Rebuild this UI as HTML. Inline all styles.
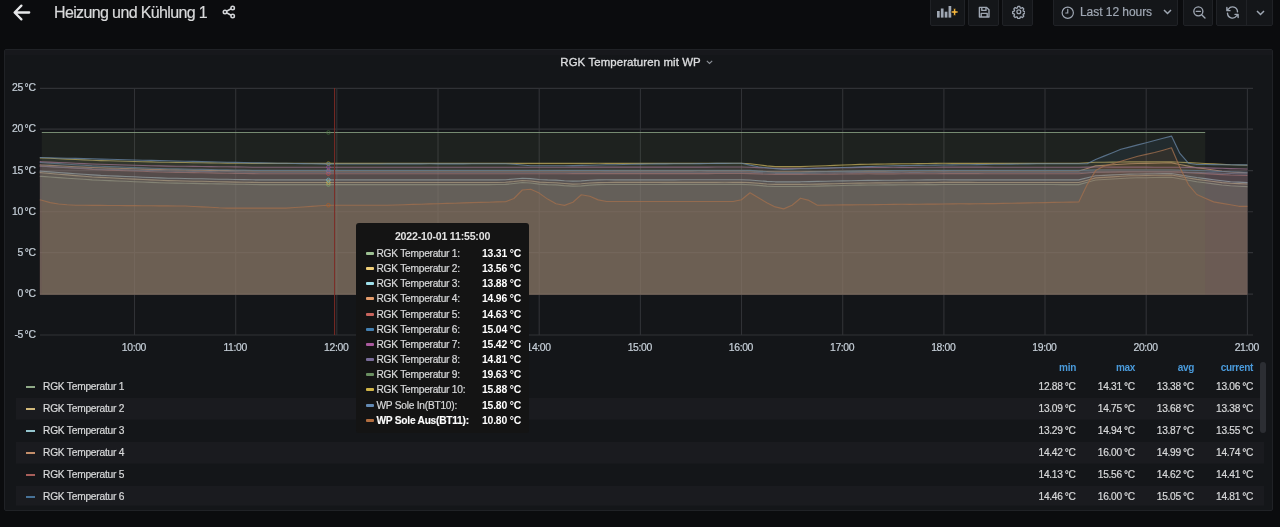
<!DOCTYPE html>
<html lang="de">
<head>
<meta charset="utf-8">
<title>Heizung und Kühlung 1 - Grafana</title>
<style>
*{box-sizing:border-box;margin:0;padding:0}
html,body{width:1280px;height:527px;overflow:hidden;background:#0b0c0e;}
body{font-family:"Liberation Sans",sans-serif;color:#c7d0d9;position:relative;font-size:12px}
#root{position:absolute;left:0;top:0;width:1280px;height:527px;will-change:transform}
/* navbar */
.back{position:absolute;left:10px;top:0;width:24px;height:25px}
.title{position:absolute;left:54px;top:1.5px;font-size:16px;line-height:22px;color:#d8d9da;white-space:nowrap;letter-spacing:-0.63px;-webkit-text-stroke:0.2px #d8d9da}
.share{position:absolute;left:221px;top:4.2px;width:16px;height:16px}
.btn{position:absolute;top:-6px;height:32px;background:#141619;border:1px solid #202226;border-radius:2px}
.btn svg{position:absolute}
.tp-text{position:absolute;left:26px;top:8.5px;font-size:12px;line-height:16px;color:#9fa7b3;white-space:nowrap;letter-spacing:-0.05px;-webkit-text-stroke:0.2px #9fa7b3}
/* panel */
.panel{position:absolute;left:4px;top:49px;width:1269px;height:462px;background:#141619;border:1px solid #202226;border-radius:2px}
.ptitle{position:absolute;font-size:11.4px;line-height:14px;font-weight:normal;color:#dcdddf;letter-spacing:0.12px;white-space:nowrap;-webkit-text-stroke:0.35px #dcdddf}
.ptitle small{font-size:9px;color:#8e8e8e;font-weight:normal;margin-left:2px}
svg.plot{position:absolute;left:4px;top:60px}
svg.plot text.ax{font-family:"Liberation Sans",sans-serif;font-size:10.4px;fill:#c7d0d9;stroke:#c7d0d9;stroke-width:0.2px;letter-spacing:-0.3px;word-spacing:-1px}
svg.plot text.xl{letter-spacing:-0.36px}
/* tooltip */
.tip{position:absolute;left:356px;top:223px;width:173px;height:210px;background:#141414;border-radius:3px;color:#d8d9da;font-size:10.2px}
.tip .tm{position:absolute;left:0;right:0;top:6.4px;text-align:center;font-weight:bold;line-height:14px;font-size:10.6px;letter-spacing:-0.2px;color:#e3e3e3}
.tip .rows{position:absolute;left:0;top:23px;width:100%}
.tip .rows div{position:relative;height:15.17px;line-height:15.17px;white-space:nowrap}
.tip .rows i{position:absolute;left:9.5px;top:6px;width:8.5px;height:3px;border-radius:1px;filter:saturate(.6) brightness(1.12)}
.tip .rows span{position:absolute;left:20.5px;letter-spacing:-0.25px;-webkit-text-stroke:0.2px #d8d9da}
.tip .rows b{position:absolute;left:126px;color:#fff;font-size:10.4px;letter-spacing:-0.2px}
.tip .rows .hl span{font-weight:bold;color:#fff}
/* legend */
.lh{position:absolute;top:361px;font-size:10px;letter-spacing:-0.3px;line-height:14px;color:#4a9bdc;font-weight:bold;text-align:right;width:60px}
.lr{position:absolute;left:16px;width:1248px;height:22px;line-height:22px;font-size:10.2px;color:#d8d9da;white-space:nowrap}
.lr.alt{background:linear-gradient(#1a1b1f,#1a1b1f) 0 0/100% 21.5px no-repeat}
.lr.last{background-size:100% 19.5px}
.lr i{position:absolute;left:9.7px;top:10.3px;width:9.3px;height:1.3px;opacity:.9;filter:saturate(.5) brightness(1.1)}
.lr .nm{position:absolute;left:27px;letter-spacing:-0.22px;-webkit-text-stroke:0.2px #d8d9da}
.lr .v{position:absolute;width:70px;text-align:right;font-size:10.2px;letter-spacing:-0.3px;word-spacing:-0.4px;-webkit-text-stroke:0.2px #d8d9da}
.lr .v:nth-of-type(2){left:989.5px}
.lr .v:nth-of-type(3){left:1048.8px}
.lr .v:nth-of-type(4){left:1107.8px}
.lr .v:nth-of-type(5){left:1167px}
.sb{position:absolute;left:1260px;top:362px;width:6px;height:71px;background:#2c2e33;border-radius:3px}
</style>
</head>
<body>
<div id="root">
<!-- navbar -->
<svg class="back" viewBox="0 0 24 25" fill="none" stroke="#e6e7e9" stroke-width="2.3" stroke-linecap="round" stroke-linejoin="round"><path d="M11.4 5.6L4.6 12.5l6.8 6.9M5.2 12.5H19.2"/></svg>
<div class="title">Heizung und Kühlung 1</div>
<svg class="share" viewBox="0 0 24 24" fill="none" stroke="#d3d5d8" stroke-width="2.3"><circle cx="17.5" cy="6" r="2.6"/><circle cx="6" cy="12" r="2.6"/><circle cx="17.5" cy="18" r="2.6"/><path d="M8.3 10.8l6.9-3.6M8.3 13.2l6.9 3.6"/></svg>

<div class="btn" style="left:930px;width:35px">
  <svg style="left:6px;top:10.3px" width="24" height="14" viewBox="0 0 24 14"><rect x="0" y="6" width="2.7" height="6.6" fill="#9fa7b3"/><rect x="3.85" y="3.5" width="2.7" height="9.1" fill="#9fa7b3"/><rect x="7.7" y="6.7" width="2.7" height="5.9" fill="#9fa7b3"/><rect x="11.55" y="1" width="2.7" height="11.6" fill="#9fa7b3"/><path d="M16.5 3.6h2.2v2.3H21v2.2h-2.3v2.3h-2.2V8.1h-2.3V5.9h2.3z" fill="#f5b73d" stroke="#141619" stroke-width="0.7"/></svg>
</div>
<div class="btn" style="left:968px;width:31px">
  <svg style="left:8px;top:9.8px" width="14.4" height="14.4" viewBox="0 0 24 24" fill="none" stroke="#9fa7b3" stroke-width="2.3" stroke-linejoin="round"><path d="M4 4h12l4 4v12H4z"/><path d="M8 4v5h7V4M7 20v-6h10v6"/></svg>
</div>
<div class="btn" style="left:1002px;width:31px">
  <svg style="left:8.6px;top:10.3px" width="13.6" height="13.6" viewBox="0 0 24 24" fill="none" stroke="#9fa7b3" stroke-width="2.3" stroke-linejoin="round"><circle cx="12" cy="12" r="3.4"/><path d="M10.3 2.5h3.4l.7 2.6 1.7.7 2.3-1.3 2.4 2.4-1.3 2.3.7 1.7 2.6.7v3.4l-2.6.7-.7 1.7 1.3 2.3-2.4 2.4-2.3-1.3-1.7.7-.7 2.6h-3.4l-.7-2.6-1.7-.7-2.3 1.3-2.4-2.4 1.3-2.3-.7-1.7-2.6-.7v-3.4l2.6-.7.7-1.7-1.3-2.3 2.4-2.4 2.3 1.3 1.7-.7z"/></svg>
</div>
<div class="btn" style="left:1053px;width:125px">
  <svg style="left:7px;top:10.6px" width="13.5" height="13.5" viewBox="0 0 24 24" fill="none" stroke="#9fa7b3" stroke-width="2.1"><circle cx="12" cy="12" r="10"/><path d="M12 6v6.5H8.5" stroke-linecap="round"/></svg>
  <div class="tp-text">Last 12 hours</div>
  <svg style="left:109px;top:14.2px" width="9" height="6" viewBox="0 0 9 6" fill="none" stroke="#9fa7b3" stroke-width="1.5"><path d="M1 1l3.5 3.5L8 1"/></svg>
</div>
<div class="btn" style="left:1183px;width:30px">
  <svg style="left:7.5px;top:9.8px" width="14.5" height="14.5" viewBox="0 0 24 24" fill="none" stroke="#9fa7b3" stroke-width="2.2" stroke-linecap="round"><circle cx="10.5" cy="10.5" r="7.5"/><path d="M16 16l5.5 5.5M7 10.5h7"/></svg>
</div>
<div class="btn" style="left:1216px;width:57px">
  <svg style="left:8px;top:9.7px" width="15" height="15" viewBox="0 0 24 24" fill="none" stroke="#9fa7b3" stroke-width="2.2" stroke-linecap="round" stroke-linejoin="round"><path d="M20 11A8 8 0 0 0 5.5 6.5L3 9M3 4v5h5M4 13a8 8 0 0 0 14.5 4.5L21 15M21 20v-5h-5"/></svg>
  <div style="position:absolute;left:29px;top:0;width:1px;height:30px;background:#202226"></div>
  <svg style="left:39px;top:14.5px" width="9" height="6" viewBox="0 0 9 6" fill="none" stroke="#9fa7b3" stroke-width="1.5"><path d="M1 1l3.5 3.5L8 1"/></svg>
</div>

<!-- panel -->
<div class="panel"></div>
<div style="position:absolute;left:5px;top:50px;width:1267px;height:4.5px;background:#17181c"></div>
<div class="ptitle" style="top:54.6px;left:560.3px">RGK Temperaturen mit WP</div>
<svg style="position:absolute;left:705.5px;top:59.5px" width="7" height="5" viewBox="0 0 7 5" fill="none" stroke="#8e9299" stroke-width="1.1"><path d="M0.8 0.8l2.7 2.7L6.2 0.8"/></svg>
<svg class="plot" width="1270" height="300" viewBox="4 60 1270 300">
<g stroke="#303236" stroke-width="1.1"><line x1="40" y1="88.4" x2="1253" y2="88.4"/><line x1="40" y1="129.1" x2="1253" y2="129.1"/><line x1="40" y1="170.6" x2="1253" y2="170.6"/><line x1="40" y1="211.7" x2="1253" y2="211.7"/><line x1="40" y1="252.6" x2="1253" y2="252.6"/><line x1="40" y1="294.1" x2="1253" y2="294.1"/><line x1="40" y1="335.0" x2="1253" y2="335.0"/><line x1="134.5" y1="88" x2="134.5" y2="335"/><line x1="235.7" y1="88" x2="235.7" y2="335"/><line x1="336.8" y1="88" x2="336.8" y2="335"/><line x1="438.0" y1="88" x2="438.0" y2="335"/><line x1="539.2" y1="88" x2="539.2" y2="335"/><line x1="640.4" y1="88" x2="640.4" y2="335"/><line x1="741.5" y1="88" x2="741.5" y2="335"/><line x1="842.7" y1="88" x2="842.7" y2="335"/><line x1="943.9" y1="88" x2="943.9" y2="335"/><line x1="1045.0" y1="88" x2="1045.0" y2="335"/><line x1="1146.2" y1="88" x2="1146.2" y2="335"/><line x1="1247.4" y1="88" x2="1247.4" y2="335"/></g>
<g style="filter:saturate(0.8)">
<path d="M39.8,176.3 L41.8,176.4 L50.2,177.0 L58.6,177.6 L67.1,178.2 L75.5,178.8 L83.9,179.3 L92.3,179.9 L100.8,180.3 L109.2,180.6 L117.6,181.0 L126.1,181.3 L134.5,181.7 L142.9,182.0 L151.4,182.4 L159.8,182.7 L168.2,183.0 L176.7,183.1 L185.1,183.3 L193.5,183.4 L201.9,183.6 L210.4,183.7 L218.8,183.9 L227.2,184.0 L235.7,184.2 L244.1,184.3 L252.5,184.5 L261.0,184.6 L269.4,184.6 L277.8,184.6 L286.3,184.6 L294.7,184.6 L303.1,184.6 L311.5,184.6 L320.0,184.6 L328.4,184.6 L336.8,184.6 L345.3,184.6 L353.7,184.6 L362.1,184.6 L370.6,184.6 L379.0,184.6 L387.4,184.6 L395.9,184.6 L404.3,184.6 L412.7,184.6 L421.1,184.6 L429.6,184.6 L438.0,184.6 L446.4,184.6 L454.9,184.6 L463.3,184.6 L471.7,184.6 L480.2,184.6 L488.6,184.6 L497.0,184.5 L505.5,184.4 L513.9,183.5 L522.3,182.5 L530.7,183.0 L539.2,184.1 L547.6,184.6 L556.0,184.9 L564.5,185.6 L572.9,186.1 L581.3,185.9 L589.8,185.1 L598.2,184.6 L606.6,184.5 L615.1,184.5 L623.5,184.5 L631.9,184.5 L640.4,184.5 L648.8,184.5 L657.2,184.5 L665.6,184.4 L674.1,184.4 L682.5,184.4 L690.9,184.4 L699.4,184.4 L707.8,184.4 L716.2,184.4 L724.7,184.4 L733.1,184.4 L741.5,184.4 L750.0,184.7 L758.4,185.4 L766.8,186.1 L775.2,186.5 L783.7,186.5 L792.1,186.5 L800.5,186.5 L809.0,186.3 L817.4,186.1 L825.8,185.9 L834.3,185.7 L842.7,185.5 L851.1,185.3 L859.6,185.1 L868.0,185.0 L876.4,185.0 L884.8,184.9 L893.3,184.9 L901.7,184.8 L910.1,184.7 L918.6,184.7 L927.0,184.6 L935.4,184.6 L943.9,184.5 L952.3,184.5 L960.7,184.5 L969.2,184.5 L977.6,184.5 L986.0,184.5 L994.4,184.5 L1002.9,184.5 L1011.3,184.5 L1019.7,184.5 L1028.2,184.5 L1036.6,184.5 L1045.0,184.5 L1053.5,184.5 L1061.9,184.6 L1070.3,184.6 L1078.8,184.6 L1087.2,182.3 L1095.6,180.0 L1104.0,179.5 L1112.5,179.0 L1120.9,178.5 L1129.3,178.0 L1137.8,177.8 L1146.2,177.7 L1154.6,177.5 L1163.1,177.4 L1171.5,177.2 L1179.9,178.7 L1188.4,180.2 L1196.8,181.7 L1205.2,182.8 L1213.6,183.9 L1222.1,185.0 L1230.5,185.8 L1238.9,186.2 L1247.4,186.6 L1247.4,294.7 L39.8,294.7 Z" fill="#7EB26D" fill-opacity="0.1" stroke="none"/>
<path d="M39.8,176.3 L41.8,176.4 L50.2,177.0 L58.6,177.6 L67.1,178.2 L75.5,178.8 L83.9,179.3 L92.3,179.9 L100.8,180.3 L109.2,180.6 L117.6,181.0 L126.1,181.3 L134.5,181.7 L142.9,182.0 L151.4,182.4 L159.8,182.7 L168.2,183.0 L176.7,183.1 L185.1,183.3 L193.5,183.4 L201.9,183.6 L210.4,183.7 L218.8,183.9 L227.2,184.0 L235.7,184.2 L244.1,184.3 L252.5,184.5 L261.0,184.6 L269.4,184.6 L277.8,184.6 L286.3,184.6 L294.7,184.6 L303.1,184.6 L311.5,184.6 L320.0,184.6 L328.4,184.6 L336.8,184.6 L345.3,184.6 L353.7,184.6 L362.1,184.6 L370.6,184.6 L379.0,184.6 L387.4,184.6 L395.9,184.6 L404.3,184.6 L412.7,184.6 L421.1,184.6 L429.6,184.6 L438.0,184.6 L446.4,184.6 L454.9,184.6 L463.3,184.6 L471.7,184.6 L480.2,184.6 L488.6,184.6 L497.0,184.5 L505.5,184.4 L513.9,183.5 L522.3,182.5 L530.7,183.0 L539.2,184.1 L547.6,184.6 L556.0,184.9 L564.5,185.6 L572.9,186.1 L581.3,185.9 L589.8,185.1 L598.2,184.6 L606.6,184.5 L615.1,184.5 L623.5,184.5 L631.9,184.5 L640.4,184.5 L648.8,184.5 L657.2,184.5 L665.6,184.4 L674.1,184.4 L682.5,184.4 L690.9,184.4 L699.4,184.4 L707.8,184.4 L716.2,184.4 L724.7,184.4 L733.1,184.4 L741.5,184.4 L750.0,184.7 L758.4,185.4 L766.8,186.1 L775.2,186.5 L783.7,186.5 L792.1,186.5 L800.5,186.5 L809.0,186.3 L817.4,186.1 L825.8,185.9 L834.3,185.7 L842.7,185.5 L851.1,185.3 L859.6,185.1 L868.0,185.0 L876.4,185.0 L884.8,184.9 L893.3,184.9 L901.7,184.8 L910.1,184.7 L918.6,184.7 L927.0,184.6 L935.4,184.6 L943.9,184.5 L952.3,184.5 L960.7,184.5 L969.2,184.5 L977.6,184.5 L986.0,184.5 L994.4,184.5 L1002.9,184.5 L1011.3,184.5 L1019.7,184.5 L1028.2,184.5 L1036.6,184.5 L1045.0,184.5 L1053.5,184.5 L1061.9,184.6 L1070.3,184.6 L1078.8,184.6 L1087.2,182.3 L1095.6,180.0 L1104.0,179.5 L1112.5,179.0 L1120.9,178.5 L1129.3,178.0 L1137.8,177.8 L1146.2,177.7 L1154.6,177.5 L1163.1,177.4 L1171.5,177.2 L1179.9,178.7 L1188.4,180.2 L1196.8,181.7 L1205.2,182.8 L1213.6,183.9 L1222.1,185.0 L1230.5,185.8 L1238.9,186.2 L1247.4,186.6" fill="none" stroke="#91b187" stroke-width="1.15" stroke-opacity="0.8" stroke-linejoin="round" style="filter:blur(0.3px)"/>
<path d="M39.8,172.6 L41.8,172.8 L50.2,173.5 L58.6,174.2 L67.1,174.9 L75.5,175.6 L83.9,176.3 L92.3,177.0 L100.8,177.4 L109.2,177.8 L117.6,178.3 L126.1,178.7 L134.5,179.1 L142.9,179.5 L151.4,179.9 L159.8,180.3 L168.2,180.6 L176.7,180.8 L185.1,181.0 L193.5,181.2 L201.9,181.3 L210.4,181.5 L218.8,181.7 L227.2,181.9 L235.7,182.1 L244.1,182.2 L252.5,182.4 L261.0,182.5 L269.4,182.5 L277.8,182.5 L286.3,182.5 L294.7,182.5 L303.1,182.5 L311.5,182.5 L320.0,182.5 L328.4,182.5 L336.8,182.5 L345.3,182.5 L353.7,182.5 L362.1,182.5 L370.6,182.5 L379.0,182.5 L387.4,182.5 L395.9,182.5 L404.3,182.5 L412.7,182.5 L421.1,182.5 L429.6,182.5 L438.0,182.5 L446.4,182.5 L454.9,182.5 L463.3,182.5 L471.7,182.5 L480.2,182.5 L488.6,182.5 L497.0,182.5 L505.5,182.3 L513.9,181.5 L522.3,180.5 L530.7,181.0 L539.2,182.1 L547.6,182.5 L556.0,182.8 L564.5,183.5 L572.9,184.1 L581.3,183.8 L589.8,183.0 L598.2,182.6 L606.6,182.5 L615.1,182.4 L623.5,182.4 L631.9,182.4 L640.4,182.4 L648.8,182.4 L657.2,182.4 L665.6,182.4 L674.1,182.4 L682.5,182.4 L690.9,182.4 L699.4,182.4 L707.8,182.4 L716.2,182.4 L724.7,182.3 L733.1,182.3 L741.5,182.3 L750.0,182.6 L758.4,183.3 L766.8,184.0 L775.2,184.4 L783.7,184.4 L792.1,184.4 L800.5,184.4 L809.0,184.3 L817.4,184.1 L825.8,183.9 L834.3,183.7 L842.7,183.5 L851.1,183.3 L859.6,183.1 L868.0,183.0 L876.4,182.9 L884.8,182.9 L893.3,182.8 L901.7,182.7 L910.1,182.7 L918.6,182.6 L927.0,182.6 L935.4,182.5 L943.9,182.4 L952.3,182.4 L960.7,182.4 L969.2,182.4 L977.6,182.5 L986.0,182.5 L994.4,182.5 L1002.9,182.5 L1011.3,182.5 L1019.7,182.5 L1028.2,182.5 L1036.6,182.5 L1045.0,182.5 L1053.5,182.5 L1061.9,182.5 L1070.3,182.5 L1078.8,182.5 L1087.2,180.2 L1095.6,177.9 L1104.0,177.4 L1112.5,176.9 L1120.9,176.3 L1129.3,175.8 L1137.8,175.7 L1146.2,175.5 L1154.6,175.3 L1163.1,175.2 L1171.5,175.0 L1179.9,176.5 L1188.4,178.0 L1196.8,179.4 L1205.2,180.5 L1213.6,181.5 L1222.1,182.6 L1230.5,183.3 L1238.9,183.6 L1247.4,184.0 L1247.4,294.7 L39.8,294.7 Z" fill="#EAB839" fill-opacity="0.1" stroke="none"/>
<path d="M39.8,172.6 L41.8,172.8 L50.2,173.5 L58.6,174.2 L67.1,174.9 L75.5,175.6 L83.9,176.3 L92.3,177.0 L100.8,177.4 L109.2,177.8 L117.6,178.3 L126.1,178.7 L134.5,179.1 L142.9,179.5 L151.4,179.9 L159.8,180.3 L168.2,180.6 L176.7,180.8 L185.1,181.0 L193.5,181.2 L201.9,181.3 L210.4,181.5 L218.8,181.7 L227.2,181.9 L235.7,182.1 L244.1,182.2 L252.5,182.4 L261.0,182.5 L269.4,182.5 L277.8,182.5 L286.3,182.5 L294.7,182.5 L303.1,182.5 L311.5,182.5 L320.0,182.5 L328.4,182.5 L336.8,182.5 L345.3,182.5 L353.7,182.5 L362.1,182.5 L370.6,182.5 L379.0,182.5 L387.4,182.5 L395.9,182.5 L404.3,182.5 L412.7,182.5 L421.1,182.5 L429.6,182.5 L438.0,182.5 L446.4,182.5 L454.9,182.5 L463.3,182.5 L471.7,182.5 L480.2,182.5 L488.6,182.5 L497.0,182.5 L505.5,182.3 L513.9,181.5 L522.3,180.5 L530.7,181.0 L539.2,182.1 L547.6,182.5 L556.0,182.8 L564.5,183.5 L572.9,184.1 L581.3,183.8 L589.8,183.0 L598.2,182.6 L606.6,182.5 L615.1,182.4 L623.5,182.4 L631.9,182.4 L640.4,182.4 L648.8,182.4 L657.2,182.4 L665.6,182.4 L674.1,182.4 L682.5,182.4 L690.9,182.4 L699.4,182.4 L707.8,182.4 L716.2,182.4 L724.7,182.3 L733.1,182.3 L741.5,182.3 L750.0,182.6 L758.4,183.3 L766.8,184.0 L775.2,184.4 L783.7,184.4 L792.1,184.4 L800.5,184.4 L809.0,184.3 L817.4,184.1 L825.8,183.9 L834.3,183.7 L842.7,183.5 L851.1,183.3 L859.6,183.1 L868.0,183.0 L876.4,182.9 L884.8,182.9 L893.3,182.8 L901.7,182.7 L910.1,182.7 L918.6,182.6 L927.0,182.6 L935.4,182.5 L943.9,182.4 L952.3,182.4 L960.7,182.4 L969.2,182.4 L977.6,182.5 L986.0,182.5 L994.4,182.5 L1002.9,182.5 L1011.3,182.5 L1019.7,182.5 L1028.2,182.5 L1036.6,182.5 L1045.0,182.5 L1053.5,182.5 L1061.9,182.5 L1070.3,182.5 L1078.8,182.5 L1087.2,180.2 L1095.6,177.9 L1104.0,177.4 L1112.5,176.9 L1120.9,176.3 L1129.3,175.8 L1137.8,175.7 L1146.2,175.5 L1154.6,175.3 L1163.1,175.2 L1171.5,175.0 L1179.9,176.5 L1188.4,178.0 L1196.8,179.4 L1205.2,180.5 L1213.6,181.5 L1222.1,182.6 L1230.5,183.3 L1238.9,183.6 L1247.4,184.0" fill="none" stroke="#dec074" stroke-width="1.15" stroke-opacity="0.8" stroke-linejoin="round" style="filter:blur(0.3px)"/>
<path d="M39.8,171.1 L41.8,171.2 L50.2,171.9 L58.6,172.5 L67.1,173.1 L75.5,173.7 L83.9,174.3 L92.3,174.9 L100.8,175.4 L109.2,175.7 L117.6,176.1 L126.1,176.5 L134.5,176.8 L142.9,177.2 L151.4,177.5 L159.8,177.9 L168.2,178.2 L176.7,178.3 L185.1,178.5 L193.5,178.7 L201.9,178.8 L210.4,179.0 L218.8,179.2 L227.2,179.3 L235.7,179.5 L244.1,179.6 L252.5,179.8 L261.0,179.9 L269.4,179.9 L277.8,179.9 L286.3,179.9 L294.7,179.9 L303.1,179.9 L311.5,179.9 L320.0,179.9 L328.4,179.9 L336.8,179.9 L345.3,179.9 L353.7,179.9 L362.1,179.9 L370.6,179.9 L379.0,179.9 L387.4,179.9 L395.9,179.9 L404.3,179.9 L412.7,179.9 L421.1,179.9 L429.6,179.9 L438.0,179.9 L446.4,179.9 L454.9,179.9 L463.3,179.9 L471.7,179.9 L480.2,179.9 L488.6,179.9 L497.0,179.9 L505.5,179.7 L513.9,179.0 L522.3,178.2 L530.7,178.6 L539.2,179.5 L547.6,179.9 L556.0,180.1 L564.5,180.7 L572.9,181.1 L581.3,180.9 L589.8,180.3 L598.2,179.9 L606.6,179.8 L615.1,179.8 L623.5,179.8 L631.9,179.8 L640.4,179.8 L648.8,179.8 L657.2,179.8 L665.6,179.8 L674.1,179.8 L682.5,179.7 L690.9,179.7 L699.4,179.7 L707.8,179.7 L716.2,179.7 L724.7,179.7 L733.1,179.7 L741.5,179.7 L750.0,180.0 L758.4,180.7 L766.8,181.4 L775.2,181.8 L783.7,181.8 L792.1,181.8 L800.5,181.8 L809.0,181.6 L817.4,181.4 L825.8,181.2 L834.3,181.0 L842.7,180.9 L851.1,180.7 L859.6,180.5 L868.0,180.3 L876.4,180.3 L884.8,180.2 L893.3,180.2 L901.7,180.1 L910.1,180.0 L918.6,180.0 L927.0,179.9 L935.4,179.9 L943.9,179.8 L952.3,179.8 L960.7,179.8 L969.2,179.8 L977.6,179.8 L986.0,179.8 L994.4,179.8 L1002.9,179.8 L1011.3,179.8 L1019.7,179.8 L1028.2,179.8 L1036.6,179.8 L1045.0,179.9 L1053.5,179.9 L1061.9,179.9 L1070.3,179.9 L1078.8,179.9 L1087.2,177.8 L1095.6,175.8 L1104.0,175.4 L1112.5,174.9 L1120.9,174.5 L1129.3,174.1 L1137.8,174.0 L1146.2,173.9 L1154.6,173.7 L1163.1,173.6 L1171.5,173.5 L1179.9,174.9 L1188.4,176.2 L1196.8,177.5 L1205.2,178.6 L1213.6,179.7 L1222.1,180.8 L1230.5,181.7 L1238.9,182.1 L1247.4,182.6 L1247.4,294.7 L39.8,294.7 Z" fill="#6ED0E0" fill-opacity="0.1" stroke="none"/>
<path d="M39.8,171.1 L41.8,171.2 L50.2,171.9 L58.6,172.5 L67.1,173.1 L75.5,173.7 L83.9,174.3 L92.3,174.9 L100.8,175.4 L109.2,175.7 L117.6,176.1 L126.1,176.5 L134.5,176.8 L142.9,177.2 L151.4,177.5 L159.8,177.9 L168.2,178.2 L176.7,178.3 L185.1,178.5 L193.5,178.7 L201.9,178.8 L210.4,179.0 L218.8,179.2 L227.2,179.3 L235.7,179.5 L244.1,179.6 L252.5,179.8 L261.0,179.9 L269.4,179.9 L277.8,179.9 L286.3,179.9 L294.7,179.9 L303.1,179.9 L311.5,179.9 L320.0,179.9 L328.4,179.9 L336.8,179.9 L345.3,179.9 L353.7,179.9 L362.1,179.9 L370.6,179.9 L379.0,179.9 L387.4,179.9 L395.9,179.9 L404.3,179.9 L412.7,179.9 L421.1,179.9 L429.6,179.9 L438.0,179.9 L446.4,179.9 L454.9,179.9 L463.3,179.9 L471.7,179.9 L480.2,179.9 L488.6,179.9 L497.0,179.9 L505.5,179.7 L513.9,179.0 L522.3,178.2 L530.7,178.6 L539.2,179.5 L547.6,179.9 L556.0,180.1 L564.5,180.7 L572.9,181.1 L581.3,180.9 L589.8,180.3 L598.2,179.9 L606.6,179.8 L615.1,179.8 L623.5,179.8 L631.9,179.8 L640.4,179.8 L648.8,179.8 L657.2,179.8 L665.6,179.8 L674.1,179.8 L682.5,179.7 L690.9,179.7 L699.4,179.7 L707.8,179.7 L716.2,179.7 L724.7,179.7 L733.1,179.7 L741.5,179.7 L750.0,180.0 L758.4,180.7 L766.8,181.4 L775.2,181.8 L783.7,181.8 L792.1,181.8 L800.5,181.8 L809.0,181.6 L817.4,181.4 L825.8,181.2 L834.3,181.0 L842.7,180.9 L851.1,180.7 L859.6,180.5 L868.0,180.3 L876.4,180.3 L884.8,180.2 L893.3,180.2 L901.7,180.1 L910.1,180.0 L918.6,180.0 L927.0,179.9 L935.4,179.9 L943.9,179.8 L952.3,179.8 L960.7,179.8 L969.2,179.8 L977.6,179.8 L986.0,179.8 L994.4,179.8 L1002.9,179.8 L1011.3,179.8 L1019.7,179.8 L1028.2,179.8 L1036.6,179.8 L1045.0,179.9 L1053.5,179.9 L1061.9,179.9 L1070.3,179.9 L1078.8,179.9 L1087.2,177.8 L1095.6,175.8 L1104.0,175.4 L1112.5,174.9 L1120.9,174.5 L1129.3,174.1 L1137.8,174.0 L1146.2,173.9 L1154.6,173.7 L1163.1,173.6 L1171.5,173.5 L1179.9,174.9 L1188.4,176.2 L1196.8,177.5 L1205.2,178.6 L1213.6,179.7 L1222.1,180.8 L1230.5,181.7 L1238.9,182.1 L1247.4,182.6" fill="none" stroke="#92cdd7" stroke-width="1.15" stroke-opacity="0.8" stroke-linejoin="round" style="filter:blur(0.3px)"/>
<path d="M39.8,164.9 L41.8,165.0 L50.2,165.4 L58.6,165.8 L67.1,166.3 L75.5,166.7 L83.9,167.1 L92.3,167.5 L100.8,167.8 L109.2,168.1 L117.6,168.3 L126.1,168.6 L134.5,168.8 L142.9,169.1 L151.4,169.4 L159.8,169.6 L168.2,169.8 L176.7,169.9 L185.1,170.0 L193.5,170.1 L201.9,170.3 L210.4,170.4 L218.8,170.5 L227.2,170.6 L235.7,170.7 L244.1,170.8 L252.5,170.9 L261.0,171.0 L269.4,171.0 L277.8,171.0 L286.3,171.0 L294.7,171.0 L303.1,171.0 L311.5,171.0 L320.0,171.0 L328.4,171.0 L336.8,171.0 L345.3,171.0 L353.7,171.0 L362.1,171.0 L370.6,171.0 L379.0,171.0 L387.4,171.0 L395.9,171.0 L404.3,171.0 L412.7,171.0 L421.1,171.0 L429.6,171.0 L438.0,171.0 L446.4,171.0 L454.9,171.0 L463.3,171.0 L471.7,171.0 L480.2,171.0 L488.6,171.0 L497.0,171.0 L505.5,171.0 L513.9,171.0 L522.3,171.0 L530.7,171.0 L539.2,171.0 L547.6,171.0 L556.0,170.9 L564.5,170.9 L572.9,170.9 L581.3,170.9 L589.8,170.9 L598.2,170.9 L606.6,170.9 L615.1,170.9 L623.5,170.9 L631.9,170.9 L640.4,170.9 L648.8,170.9 L657.2,170.9 L665.6,170.9 L674.1,170.9 L682.5,170.9 L690.9,170.9 L699.4,170.8 L707.8,170.8 L716.2,170.8 L724.7,170.8 L733.1,170.8 L741.5,170.8 L750.0,170.9 L758.4,171.2 L766.8,171.5 L775.2,171.7 L783.7,171.7 L792.1,171.7 L800.5,171.7 L809.0,171.6 L817.4,171.5 L825.8,171.5 L834.3,171.4 L842.7,171.3 L851.1,171.2 L859.6,171.2 L868.0,171.1 L876.4,171.1 L884.8,171.1 L893.3,171.0 L901.7,171.0 L910.1,171.0 L918.6,171.0 L927.0,171.0 L935.4,170.9 L943.9,170.9 L952.3,170.9 L960.7,170.9 L969.2,170.9 L977.6,170.9 L986.0,170.9 L994.4,170.9 L1002.9,170.9 L1011.3,170.9 L1019.7,171.0 L1028.2,171.0 L1036.6,171.0 L1045.0,171.0 L1053.5,171.0 L1061.9,171.0 L1070.3,171.0 L1078.8,171.0 L1087.2,168.5 L1095.6,165.9 L1104.0,165.4 L1112.5,164.8 L1120.9,164.2 L1129.3,163.7 L1137.8,163.5 L1146.2,163.4 L1154.6,163.2 L1163.1,163.0 L1171.5,162.9 L1179.9,164.5 L1188.4,166.1 L1196.8,167.7 L1205.2,168.8 L1213.6,170.0 L1222.1,171.2 L1230.5,172.0 L1238.9,172.4 L1247.4,172.8 L1247.4,294.7 L39.8,294.7 Z" fill="#EF843C" fill-opacity="0.1" stroke="none"/>
<path d="M39.8,164.9 L41.8,165.0 L50.2,165.4 L58.6,165.8 L67.1,166.3 L75.5,166.7 L83.9,167.1 L92.3,167.5 L100.8,167.8 L109.2,168.1 L117.6,168.3 L126.1,168.6 L134.5,168.8 L142.9,169.1 L151.4,169.4 L159.8,169.6 L168.2,169.8 L176.7,169.9 L185.1,170.0 L193.5,170.1 L201.9,170.3 L210.4,170.4 L218.8,170.5 L227.2,170.6 L235.7,170.7 L244.1,170.8 L252.5,170.9 L261.0,171.0 L269.4,171.0 L277.8,171.0 L286.3,171.0 L294.7,171.0 L303.1,171.0 L311.5,171.0 L320.0,171.0 L328.4,171.0 L336.8,171.0 L345.3,171.0 L353.7,171.0 L362.1,171.0 L370.6,171.0 L379.0,171.0 L387.4,171.0 L395.9,171.0 L404.3,171.0 L412.7,171.0 L421.1,171.0 L429.6,171.0 L438.0,171.0 L446.4,171.0 L454.9,171.0 L463.3,171.0 L471.7,171.0 L480.2,171.0 L488.6,171.0 L497.0,171.0 L505.5,171.0 L513.9,171.0 L522.3,171.0 L530.7,171.0 L539.2,171.0 L547.6,171.0 L556.0,170.9 L564.5,170.9 L572.9,170.9 L581.3,170.9 L589.8,170.9 L598.2,170.9 L606.6,170.9 L615.1,170.9 L623.5,170.9 L631.9,170.9 L640.4,170.9 L648.8,170.9 L657.2,170.9 L665.6,170.9 L674.1,170.9 L682.5,170.9 L690.9,170.9 L699.4,170.8 L707.8,170.8 L716.2,170.8 L724.7,170.8 L733.1,170.8 L741.5,170.8 L750.0,170.9 L758.4,171.2 L766.8,171.5 L775.2,171.7 L783.7,171.7 L792.1,171.7 L800.5,171.7 L809.0,171.6 L817.4,171.5 L825.8,171.5 L834.3,171.4 L842.7,171.3 L851.1,171.2 L859.6,171.2 L868.0,171.1 L876.4,171.1 L884.8,171.1 L893.3,171.0 L901.7,171.0 L910.1,171.0 L918.6,171.0 L927.0,171.0 L935.4,170.9 L943.9,170.9 L952.3,170.9 L960.7,170.9 L969.2,170.9 L977.6,170.9 L986.0,170.9 L994.4,170.9 L1002.9,170.9 L1011.3,170.9 L1019.7,171.0 L1028.2,171.0 L1036.6,171.0 L1045.0,171.0 L1053.5,171.0 L1061.9,171.0 L1070.3,171.0 L1078.8,171.0 L1087.2,168.5 L1095.6,165.9 L1104.0,165.4 L1112.5,164.8 L1120.9,164.2 L1129.3,163.7 L1137.8,163.5 L1146.2,163.4 L1154.6,163.2 L1163.1,163.0 L1171.5,162.9 L1179.9,164.5 L1188.4,166.1 L1196.8,167.7 L1205.2,168.8 L1213.6,170.0 L1222.1,171.2 L1230.5,172.0 L1238.9,172.4 L1247.4,172.8" fill="none" stroke="#d6966a" stroke-width="1.15" stroke-opacity="0.8" stroke-linejoin="round" style="filter:blur(0.3px)"/>
<path d="M39.8,166.0 L41.8,166.1 L50.2,166.7 L58.6,167.2 L67.1,167.8 L75.5,168.3 L83.9,168.8 L92.3,169.4 L100.8,169.7 L109.2,170.1 L117.6,170.4 L126.1,170.7 L134.5,171.0 L142.9,171.3 L151.4,171.7 L159.8,172.0 L168.2,172.2 L176.7,172.4 L185.1,172.5 L193.5,172.6 L201.9,172.8 L210.4,172.9 L218.8,173.1 L227.2,173.2 L235.7,173.4 L244.1,173.5 L252.5,173.6 L261.0,173.7 L269.4,173.7 L277.8,173.7 L286.3,173.7 L294.7,173.7 L303.1,173.7 L311.5,173.7 L320.0,173.7 L328.4,173.7 L336.8,173.7 L345.3,173.7 L353.7,173.7 L362.1,173.7 L370.6,173.7 L379.0,173.7 L387.4,173.7 L395.9,173.7 L404.3,173.7 L412.7,173.7 L421.1,173.7 L429.6,173.7 L438.0,173.7 L446.4,173.7 L454.9,173.7 L463.3,173.7 L471.7,173.7 L480.2,173.7 L488.6,173.7 L497.0,173.7 L505.5,173.7 L513.9,173.7 L522.3,173.7 L530.7,173.7 L539.2,173.7 L547.6,173.7 L556.0,173.7 L564.5,173.7 L572.9,173.6 L581.3,173.6 L589.8,173.6 L598.2,173.6 L606.6,173.6 L615.1,173.6 L623.5,173.6 L631.9,173.6 L640.4,173.6 L648.8,173.6 L657.2,173.6 L665.6,173.6 L674.1,173.6 L682.5,173.6 L690.9,173.6 L699.4,173.6 L707.8,173.6 L716.2,173.5 L724.7,173.5 L733.1,173.5 L741.5,173.5 L750.0,173.6 L758.4,173.9 L766.8,174.2 L775.2,174.4 L783.7,174.4 L792.1,174.4 L800.5,174.4 L809.0,174.3 L817.4,174.2 L825.8,174.2 L834.3,174.1 L842.7,174.0 L851.1,173.9 L859.6,173.9 L868.0,173.8 L876.4,173.8 L884.8,173.8 L893.3,173.8 L901.7,173.7 L910.1,173.7 L918.6,173.7 L927.0,173.7 L935.4,173.7 L943.9,173.6 L952.3,173.6 L960.7,173.6 L969.2,173.6 L977.6,173.6 L986.0,173.7 L994.4,173.7 L1002.9,173.7 L1011.3,173.7 L1019.7,173.7 L1028.2,173.7 L1036.6,173.7 L1045.0,173.7 L1053.5,173.7 L1061.9,173.7 L1070.3,173.7 L1078.8,173.7 L1087.2,173.0 L1095.6,172.3 L1104.0,172.2 L1112.5,172.0 L1120.9,171.9 L1129.3,171.8 L1137.8,171.7 L1146.2,171.7 L1154.6,171.7 L1163.1,171.7 L1171.5,171.7 L1179.9,172.1 L1188.4,172.6 L1196.8,173.1 L1205.2,173.6 L1213.6,174.1 L1222.1,174.6 L1230.5,175.0 L1238.9,175.2 L1247.4,175.5 L1247.4,294.7 L39.8,294.7 Z" fill="#E24D42" fill-opacity="0.1" stroke="none"/>
<path d="M39.8,166.0 L41.8,166.1 L50.2,166.7 L58.6,167.2 L67.1,167.8 L75.5,168.3 L83.9,168.8 L92.3,169.4 L100.8,169.7 L109.2,170.1 L117.6,170.4 L126.1,170.7 L134.5,171.0 L142.9,171.3 L151.4,171.7 L159.8,172.0 L168.2,172.2 L176.7,172.4 L185.1,172.5 L193.5,172.6 L201.9,172.8 L210.4,172.9 L218.8,173.1 L227.2,173.2 L235.7,173.4 L244.1,173.5 L252.5,173.6 L261.0,173.7 L269.4,173.7 L277.8,173.7 L286.3,173.7 L294.7,173.7 L303.1,173.7 L311.5,173.7 L320.0,173.7 L328.4,173.7 L336.8,173.7 L345.3,173.7 L353.7,173.7 L362.1,173.7 L370.6,173.7 L379.0,173.7 L387.4,173.7 L395.9,173.7 L404.3,173.7 L412.7,173.7 L421.1,173.7 L429.6,173.7 L438.0,173.7 L446.4,173.7 L454.9,173.7 L463.3,173.7 L471.7,173.7 L480.2,173.7 L488.6,173.7 L497.0,173.7 L505.5,173.7 L513.9,173.7 L522.3,173.7 L530.7,173.7 L539.2,173.7 L547.6,173.7 L556.0,173.7 L564.5,173.7 L572.9,173.6 L581.3,173.6 L589.8,173.6 L598.2,173.6 L606.6,173.6 L615.1,173.6 L623.5,173.6 L631.9,173.6 L640.4,173.6 L648.8,173.6 L657.2,173.6 L665.6,173.6 L674.1,173.6 L682.5,173.6 L690.9,173.6 L699.4,173.6 L707.8,173.6 L716.2,173.5 L724.7,173.5 L733.1,173.5 L741.5,173.5 L750.0,173.6 L758.4,173.9 L766.8,174.2 L775.2,174.4 L783.7,174.4 L792.1,174.4 L800.5,174.4 L809.0,174.3 L817.4,174.2 L825.8,174.2 L834.3,174.1 L842.7,174.0 L851.1,173.9 L859.6,173.9 L868.0,173.8 L876.4,173.8 L884.8,173.8 L893.3,173.8 L901.7,173.7 L910.1,173.7 L918.6,173.7 L927.0,173.7 L935.4,173.7 L943.9,173.6 L952.3,173.6 L960.7,173.6 L969.2,173.6 L977.6,173.6 L986.0,173.7 L994.4,173.7 L1002.9,173.7 L1011.3,173.7 L1019.7,173.7 L1028.2,173.7 L1036.6,173.7 L1045.0,173.7 L1053.5,173.7 L1061.9,173.7 L1070.3,173.7 L1078.8,173.7 L1087.2,173.0 L1095.6,172.3 L1104.0,172.2 L1112.5,172.0 L1120.9,171.9 L1129.3,171.8 L1137.8,171.7 L1146.2,171.7 L1154.6,171.7 L1163.1,171.7 L1171.5,171.7 L1179.9,172.1 L1188.4,172.6 L1196.8,173.1 L1205.2,173.6 L1213.6,174.1 L1222.1,174.6 L1230.5,175.0 L1238.9,175.2 L1247.4,175.5" fill="none" stroke="#c06660" stroke-width="1.15" stroke-opacity="0.8" stroke-linejoin="round" style="filter:blur(0.3px)"/>
<path d="M39.8,162.4 L41.8,162.5 L50.2,163.1 L58.6,163.6 L67.1,164.2 L75.5,164.7 L83.9,165.3 L92.3,165.9 L100.8,166.2 L109.2,166.6 L117.6,166.9 L126.1,167.2 L134.5,167.6 L142.9,167.9 L151.4,168.2 L159.8,168.5 L168.2,168.8 L176.7,168.9 L185.1,169.1 L193.5,169.2 L201.9,169.4 L210.4,169.5 L218.8,169.7 L227.2,169.8 L235.7,170.0 L244.1,170.1 L252.5,170.3 L261.0,170.3 L269.4,170.3 L277.8,170.3 L286.3,170.3 L294.7,170.3 L303.1,170.3 L311.5,170.3 L320.0,170.3 L328.4,170.3 L336.8,170.3 L345.3,170.3 L353.7,170.3 L362.1,170.3 L370.6,170.3 L379.0,170.3 L387.4,170.3 L395.9,170.3 L404.3,170.3 L412.7,170.3 L421.1,170.3 L429.6,170.3 L438.0,170.3 L446.4,170.3 L454.9,170.3 L463.3,170.3 L471.7,170.3 L480.2,170.3 L488.6,170.3 L497.0,170.3 L505.5,170.3 L513.9,170.3 L522.3,170.3 L530.7,170.3 L539.2,170.3 L547.6,170.3 L556.0,170.3 L564.5,170.3 L572.9,170.3 L581.3,170.3 L589.8,170.3 L598.2,170.3 L606.6,170.3 L615.1,170.2 L623.5,170.2 L631.9,170.2 L640.4,170.2 L648.8,170.2 L657.2,170.2 L665.6,170.2 L674.1,170.2 L682.5,170.2 L690.9,170.2 L699.4,170.2 L707.8,170.2 L716.2,170.2 L724.7,170.2 L733.1,170.2 L741.5,170.2 L750.0,170.4 L758.4,171.1 L766.8,171.8 L775.2,172.2 L783.7,172.2 L792.1,172.2 L800.5,172.2 L809.0,172.1 L817.4,171.9 L825.8,171.7 L834.3,171.5 L842.7,171.3 L851.1,171.1 L859.6,170.9 L868.0,170.8 L876.4,170.7 L884.8,170.7 L893.3,170.6 L901.7,170.6 L910.1,170.5 L918.6,170.4 L927.0,170.4 L935.4,170.3 L943.9,170.3 L952.3,170.3 L960.7,170.3 L969.2,170.3 L977.6,170.3 L986.0,170.3 L994.4,170.3 L1002.9,170.3 L1011.3,170.3 L1019.7,170.3 L1028.2,170.3 L1036.6,170.3 L1045.0,170.3 L1053.5,170.3 L1061.9,170.3 L1070.3,170.3 L1078.8,170.3 L1087.2,170.1 L1095.6,169.9 L1104.0,169.9 L1112.5,169.9 L1120.9,169.9 L1129.3,169.8 L1137.8,169.9 L1146.2,169.9 L1154.6,169.9 L1163.1,169.9 L1171.5,169.9 L1179.9,170.1 L1188.4,170.3 L1196.8,170.5 L1205.2,170.8 L1213.6,171.1 L1222.1,171.5 L1230.5,171.7 L1238.9,172.0 L1247.4,172.2 L1247.4,294.7 L39.8,294.7 Z" fill="#1F78C1" fill-opacity="0.1" stroke="none"/>
<path d="M39.8,162.4 L41.8,162.5 L50.2,163.1 L58.6,163.6 L67.1,164.2 L75.5,164.7 L83.9,165.3 L92.3,165.9 L100.8,166.2 L109.2,166.6 L117.6,166.9 L126.1,167.2 L134.5,167.6 L142.9,167.9 L151.4,168.2 L159.8,168.5 L168.2,168.8 L176.7,168.9 L185.1,169.1 L193.5,169.2 L201.9,169.4 L210.4,169.5 L218.8,169.7 L227.2,169.8 L235.7,170.0 L244.1,170.1 L252.5,170.3 L261.0,170.3 L269.4,170.3 L277.8,170.3 L286.3,170.3 L294.7,170.3 L303.1,170.3 L311.5,170.3 L320.0,170.3 L328.4,170.3 L336.8,170.3 L345.3,170.3 L353.7,170.3 L362.1,170.3 L370.6,170.3 L379.0,170.3 L387.4,170.3 L395.9,170.3 L404.3,170.3 L412.7,170.3 L421.1,170.3 L429.6,170.3 L438.0,170.3 L446.4,170.3 L454.9,170.3 L463.3,170.3 L471.7,170.3 L480.2,170.3 L488.6,170.3 L497.0,170.3 L505.5,170.3 L513.9,170.3 L522.3,170.3 L530.7,170.3 L539.2,170.3 L547.6,170.3 L556.0,170.3 L564.5,170.3 L572.9,170.3 L581.3,170.3 L589.8,170.3 L598.2,170.3 L606.6,170.3 L615.1,170.2 L623.5,170.2 L631.9,170.2 L640.4,170.2 L648.8,170.2 L657.2,170.2 L665.6,170.2 L674.1,170.2 L682.5,170.2 L690.9,170.2 L699.4,170.2 L707.8,170.2 L716.2,170.2 L724.7,170.2 L733.1,170.2 L741.5,170.2 L750.0,170.4 L758.4,171.1 L766.8,171.8 L775.2,172.2 L783.7,172.2 L792.1,172.2 L800.5,172.2 L809.0,172.1 L817.4,171.9 L825.8,171.7 L834.3,171.5 L842.7,171.3 L851.1,171.1 L859.6,170.9 L868.0,170.8 L876.4,170.7 L884.8,170.7 L893.3,170.6 L901.7,170.6 L910.1,170.5 L918.6,170.4 L927.0,170.4 L935.4,170.3 L943.9,170.3 L952.3,170.3 L960.7,170.3 L969.2,170.3 L977.6,170.3 L986.0,170.3 L994.4,170.3 L1002.9,170.3 L1011.3,170.3 L1019.7,170.3 L1028.2,170.3 L1036.6,170.3 L1045.0,170.3 L1053.5,170.3 L1061.9,170.3 L1070.3,170.3 L1078.8,170.3 L1087.2,170.1 L1095.6,169.9 L1104.0,169.9 L1112.5,169.9 L1120.9,169.9 L1129.3,169.8 L1137.8,169.9 L1146.2,169.9 L1154.6,169.9 L1163.1,169.9 L1171.5,169.9 L1179.9,170.1 L1188.4,170.3 L1196.8,170.5 L1205.2,170.8 L1213.6,171.1 L1222.1,171.5 L1230.5,171.7 L1238.9,172.0 L1247.4,172.2" fill="none" stroke="#4379a4" stroke-width="1.15" stroke-opacity="0.8" stroke-linejoin="round" style="filter:blur(0.3px)"/>
<path d="M39.8,161.6 L41.8,161.7 L50.2,162.1 L58.6,162.5 L67.1,162.8 L75.5,163.2 L83.9,163.6 L92.3,164.0 L100.8,164.3 L109.2,164.5 L117.6,164.8 L126.1,165.0 L134.5,165.2 L142.9,165.5 L151.4,165.7 L159.8,165.9 L168.2,166.1 L176.7,166.2 L185.1,166.3 L193.5,166.4 L201.9,166.5 L210.4,166.6 L218.8,166.7 L227.2,166.8 L235.7,166.9 L244.1,167.0 L252.5,167.2 L261.0,167.2 L269.4,167.2 L277.8,167.2 L286.3,167.2 L294.7,167.2 L303.1,167.2 L311.5,167.2 L320.0,167.2 L328.4,167.2 L336.8,167.2 L345.3,167.2 L353.7,167.2 L362.1,167.2 L370.6,167.2 L379.0,167.2 L387.4,167.2 L395.9,167.2 L404.3,167.2 L412.7,167.2 L421.1,167.2 L429.6,167.2 L438.0,167.2 L446.4,167.2 L454.9,167.2 L463.3,167.2 L471.7,167.2 L480.2,167.2 L488.6,167.2 L497.0,167.2 L505.5,167.2 L513.9,167.2 L522.3,167.2 L530.7,167.2 L539.2,167.2 L547.6,167.2 L556.0,167.2 L564.5,167.2 L572.9,167.1 L581.3,167.1 L589.8,167.1 L598.2,167.1 L606.6,167.1 L615.1,167.1 L623.5,167.1 L631.9,167.1 L640.4,167.1 L648.8,167.1 L657.2,167.1 L665.6,167.1 L674.1,167.1 L682.5,167.1 L690.9,167.1 L699.4,167.1 L707.8,167.1 L716.2,167.0 L724.7,167.0 L733.1,167.0 L741.5,167.0 L750.0,167.2 L758.4,167.6 L766.8,168.0 L775.2,168.3 L783.7,168.3 L792.1,168.3 L800.5,168.3 L809.0,168.2 L817.4,168.1 L825.8,168.0 L834.3,167.9 L842.7,167.7 L851.1,167.6 L859.6,167.5 L868.0,167.4 L876.4,167.4 L884.8,167.4 L893.3,167.3 L901.7,167.3 L910.1,167.3 L918.6,167.2 L927.0,167.2 L935.4,167.2 L943.9,167.1 L952.3,167.1 L960.7,167.1 L969.2,167.1 L977.6,167.1 L986.0,167.1 L994.4,167.2 L1002.9,167.2 L1011.3,167.2 L1019.7,167.2 L1028.2,167.2 L1036.6,167.2 L1045.0,167.2 L1053.5,167.2 L1061.9,167.2 L1070.3,167.2 L1078.8,167.2 L1087.2,167.1 L1095.6,167.0 L1104.0,167.0 L1112.5,167.1 L1120.9,167.1 L1129.3,167.1 L1137.8,167.1 L1146.2,167.1 L1154.6,167.2 L1163.1,167.2 L1171.5,167.2 L1179.9,167.3 L1188.4,167.4 L1196.8,167.6 L1205.2,167.8 L1213.6,168.1 L1222.1,168.3 L1230.5,168.6 L1238.9,168.8 L1247.4,169.0 L1247.4,294.7 L39.8,294.7 Z" fill="#BA43A9" fill-opacity="0.1" stroke="none"/>
<path d="M39.8,161.6 L41.8,161.7 L50.2,162.1 L58.6,162.5 L67.1,162.8 L75.5,163.2 L83.9,163.6 L92.3,164.0 L100.8,164.3 L109.2,164.5 L117.6,164.8 L126.1,165.0 L134.5,165.2 L142.9,165.5 L151.4,165.7 L159.8,165.9 L168.2,166.1 L176.7,166.2 L185.1,166.3 L193.5,166.4 L201.9,166.5 L210.4,166.6 L218.8,166.7 L227.2,166.8 L235.7,166.9 L244.1,167.0 L252.5,167.2 L261.0,167.2 L269.4,167.2 L277.8,167.2 L286.3,167.2 L294.7,167.2 L303.1,167.2 L311.5,167.2 L320.0,167.2 L328.4,167.2 L336.8,167.2 L345.3,167.2 L353.7,167.2 L362.1,167.2 L370.6,167.2 L379.0,167.2 L387.4,167.2 L395.9,167.2 L404.3,167.2 L412.7,167.2 L421.1,167.2 L429.6,167.2 L438.0,167.2 L446.4,167.2 L454.9,167.2 L463.3,167.2 L471.7,167.2 L480.2,167.2 L488.6,167.2 L497.0,167.2 L505.5,167.2 L513.9,167.2 L522.3,167.2 L530.7,167.2 L539.2,167.2 L547.6,167.2 L556.0,167.2 L564.5,167.2 L572.9,167.1 L581.3,167.1 L589.8,167.1 L598.2,167.1 L606.6,167.1 L615.1,167.1 L623.5,167.1 L631.9,167.1 L640.4,167.1 L648.8,167.1 L657.2,167.1 L665.6,167.1 L674.1,167.1 L682.5,167.1 L690.9,167.1 L699.4,167.1 L707.8,167.1 L716.2,167.0 L724.7,167.0 L733.1,167.0 L741.5,167.0 L750.0,167.2 L758.4,167.6 L766.8,168.0 L775.2,168.3 L783.7,168.3 L792.1,168.3 L800.5,168.3 L809.0,168.2 L817.4,168.1 L825.8,168.0 L834.3,167.9 L842.7,167.7 L851.1,167.6 L859.6,167.5 L868.0,167.4 L876.4,167.4 L884.8,167.4 L893.3,167.3 L901.7,167.3 L910.1,167.3 L918.6,167.2 L927.0,167.2 L935.4,167.2 L943.9,167.1 L952.3,167.1 L960.7,167.1 L969.2,167.1 L977.6,167.1 L986.0,167.1 L994.4,167.2 L1002.9,167.2 L1011.3,167.2 L1019.7,167.2 L1028.2,167.2 L1036.6,167.2 L1045.0,167.2 L1053.5,167.2 L1061.9,167.2 L1070.3,167.2 L1078.8,167.2 L1087.2,167.1 L1095.6,167.0 L1104.0,167.0 L1112.5,167.1 L1120.9,167.1 L1129.3,167.1 L1137.8,167.1 L1146.2,167.1 L1154.6,167.2 L1163.1,167.2 L1171.5,167.2 L1179.9,167.3 L1188.4,167.4 L1196.8,167.6 L1205.2,167.8 L1213.6,168.1 L1222.1,168.3 L1230.5,168.6 L1238.9,168.8 L1247.4,169.0" fill="none" stroke="#a55e9b" stroke-width="1.15" stroke-opacity="0.8" stroke-linejoin="round" style="filter:blur(0.3px)"/>
<path d="M39.8,166.1 L41.8,166.2 L50.2,166.6 L58.6,167.1 L67.1,167.5 L75.5,167.9 L83.9,168.3 L92.3,168.8 L100.8,169.1 L109.2,169.3 L117.6,169.6 L126.1,169.8 L134.5,170.1 L142.9,170.3 L151.4,170.6 L159.8,170.8 L168.2,171.0 L176.7,171.2 L185.1,171.3 L193.5,171.4 L201.9,171.5 L210.4,171.6 L218.8,171.7 L227.2,171.8 L235.7,171.9 L244.1,172.1 L252.5,172.2 L261.0,172.2 L269.4,172.2 L277.8,172.2 L286.3,172.2 L294.7,172.2 L303.1,172.2 L311.5,172.2 L320.0,172.2 L328.4,172.2 L336.8,172.2 L345.3,172.2 L353.7,172.2 L362.1,172.2 L370.6,172.2 L379.0,172.2 L387.4,172.2 L395.9,172.2 L404.3,172.2 L412.7,172.2 L421.1,172.2 L429.6,172.2 L438.0,172.2 L446.4,172.2 L454.9,172.2 L463.3,172.2 L471.7,172.2 L480.2,172.2 L488.6,172.2 L497.0,172.2 L505.5,172.2 L513.9,172.2 L522.3,172.2 L530.7,172.2 L539.2,172.2 L547.6,172.2 L556.0,172.2 L564.5,172.2 L572.9,172.2 L581.3,172.2 L589.8,172.2 L598.2,172.2 L606.6,172.1 L615.1,172.1 L623.5,172.1 L631.9,172.1 L640.4,172.1 L648.8,172.1 L657.2,172.1 L665.6,172.1 L674.1,172.1 L682.5,172.1 L690.9,172.1 L699.4,172.1 L707.8,172.1 L716.2,172.1 L724.7,172.1 L733.1,172.1 L741.5,172.0 L750.0,172.2 L758.4,172.6 L766.8,173.0 L775.2,173.3 L783.7,173.3 L792.1,173.3 L800.5,173.3 L809.0,173.2 L817.4,173.1 L825.8,173.0 L834.3,172.9 L842.7,172.8 L851.1,172.6 L859.6,172.5 L868.0,172.5 L876.4,172.4 L884.8,172.4 L893.3,172.4 L901.7,172.3 L910.1,172.3 L918.6,172.3 L927.0,172.2 L935.4,172.2 L943.9,172.1 L952.3,172.2 L960.7,172.2 L969.2,172.2 L977.6,172.2 L986.0,172.2 L994.4,172.2 L1002.9,172.2 L1011.3,172.2 L1019.7,172.2 L1028.2,172.2 L1036.6,172.2 L1045.0,172.2 L1053.5,172.2 L1061.9,172.2 L1070.3,172.2 L1078.8,172.2 L1087.2,172.0 L1095.6,171.8 L1104.0,171.8 L1112.5,171.8 L1120.9,171.7 L1129.3,171.7 L1137.8,171.7 L1146.2,171.8 L1154.6,171.8 L1163.1,171.8 L1171.5,171.8 L1179.9,172.0 L1188.4,172.2 L1196.8,172.4 L1205.2,172.7 L1213.6,172.9 L1222.1,173.2 L1230.5,173.5 L1238.9,173.7 L1247.4,173.9 L1247.4,294.7 L39.8,294.7 Z" fill="#705DA0" fill-opacity="0.1" stroke="none"/>
<path d="M39.8,166.1 L41.8,166.2 L50.2,166.6 L58.6,167.1 L67.1,167.5 L75.5,167.9 L83.9,168.3 L92.3,168.8 L100.8,169.1 L109.2,169.3 L117.6,169.6 L126.1,169.8 L134.5,170.1 L142.9,170.3 L151.4,170.6 L159.8,170.8 L168.2,171.0 L176.7,171.2 L185.1,171.3 L193.5,171.4 L201.9,171.5 L210.4,171.6 L218.8,171.7 L227.2,171.8 L235.7,171.9 L244.1,172.1 L252.5,172.2 L261.0,172.2 L269.4,172.2 L277.8,172.2 L286.3,172.2 L294.7,172.2 L303.1,172.2 L311.5,172.2 L320.0,172.2 L328.4,172.2 L336.8,172.2 L345.3,172.2 L353.7,172.2 L362.1,172.2 L370.6,172.2 L379.0,172.2 L387.4,172.2 L395.9,172.2 L404.3,172.2 L412.7,172.2 L421.1,172.2 L429.6,172.2 L438.0,172.2 L446.4,172.2 L454.9,172.2 L463.3,172.2 L471.7,172.2 L480.2,172.2 L488.6,172.2 L497.0,172.2 L505.5,172.2 L513.9,172.2 L522.3,172.2 L530.7,172.2 L539.2,172.2 L547.6,172.2 L556.0,172.2 L564.5,172.2 L572.9,172.2 L581.3,172.2 L589.8,172.2 L598.2,172.2 L606.6,172.1 L615.1,172.1 L623.5,172.1 L631.9,172.1 L640.4,172.1 L648.8,172.1 L657.2,172.1 L665.6,172.1 L674.1,172.1 L682.5,172.1 L690.9,172.1 L699.4,172.1 L707.8,172.1 L716.2,172.1 L724.7,172.1 L733.1,172.1 L741.5,172.0 L750.0,172.2 L758.4,172.6 L766.8,173.0 L775.2,173.3 L783.7,173.3 L792.1,173.3 L800.5,173.3 L809.0,173.2 L817.4,173.1 L825.8,173.0 L834.3,172.9 L842.7,172.8 L851.1,172.6 L859.6,172.5 L868.0,172.5 L876.4,172.4 L884.8,172.4 L893.3,172.4 L901.7,172.3 L910.1,172.3 L918.6,172.3 L927.0,172.2 L935.4,172.2 L943.9,172.1 L952.3,172.2 L960.7,172.2 L969.2,172.2 L977.6,172.2 L986.0,172.2 L994.4,172.2 L1002.9,172.2 L1011.3,172.2 L1019.7,172.2 L1028.2,172.2 L1036.6,172.2 L1045.0,172.2 L1053.5,172.2 L1061.9,172.2 L1070.3,172.2 L1078.8,172.2 L1087.2,172.0 L1095.6,171.8 L1104.0,171.8 L1112.5,171.8 L1120.9,171.7 L1129.3,171.7 L1137.8,171.7 L1146.2,171.8 L1154.6,171.8 L1163.1,171.8 L1171.5,171.8 L1179.9,172.0 L1188.4,172.2 L1196.8,172.4 L1205.2,172.7 L1213.6,172.9 L1222.1,173.2 L1230.5,173.5 L1238.9,173.7 L1247.4,173.9" fill="none" stroke="#766a93" stroke-width="1.15" stroke-opacity="0.8" stroke-linejoin="round" style="filter:blur(0.3px)"/>
<path d="M41.8,132.5 L50.2,132.5 L58.6,132.5 L67.1,132.5 L75.5,132.5 L83.9,132.5 L92.3,132.5 L100.8,132.5 L109.2,132.5 L117.6,132.5 L126.1,132.5 L134.5,132.5 L142.9,132.5 L151.4,132.5 L159.8,132.5 L168.2,132.5 L176.7,132.5 L185.1,132.5 L193.5,132.5 L201.9,132.5 L210.4,132.5 L218.8,132.5 L227.2,132.5 L235.7,132.5 L244.1,132.5 L252.5,132.5 L261.0,132.5 L269.4,132.5 L277.8,132.5 L286.3,132.5 L294.7,132.5 L303.1,132.5 L311.5,132.5 L320.0,132.5 L328.4,132.5 L336.8,132.5 L345.3,132.5 L353.7,132.5 L362.1,132.5 L370.6,132.5 L379.0,132.5 L387.4,132.5 L395.9,132.5 L404.3,132.5 L412.7,132.5 L421.1,132.5 L429.6,132.5 L438.0,132.5 L446.4,132.5 L454.9,132.5 L463.3,132.5 L471.7,132.5 L480.2,132.5 L488.6,132.5 L497.0,132.5 L505.5,132.5 L513.9,132.5 L522.3,132.5 L530.7,132.5 L539.2,132.5 L547.6,132.5 L556.0,132.5 L564.5,132.5 L572.9,132.5 L581.3,132.5 L589.8,132.5 L598.2,132.5 L606.6,132.5 L615.1,132.5 L623.5,132.5 L631.9,132.5 L640.4,132.5 L648.8,132.5 L657.2,132.5 L665.6,132.5 L674.1,132.5 L682.5,132.5 L690.9,132.5 L699.4,132.5 L707.8,132.5 L716.2,132.5 L724.7,132.5 L733.1,132.5 L741.5,132.5 L750.0,132.5 L758.4,132.5 L766.8,132.5 L775.2,132.5 L783.7,132.5 L792.1,132.5 L800.5,132.5 L809.0,132.5 L817.4,132.5 L825.8,132.5 L834.3,132.5 L842.7,132.5 L851.1,132.5 L859.6,132.5 L868.0,132.5 L876.4,132.5 L884.8,132.5 L893.3,132.5 L901.7,132.5 L910.1,132.5 L918.6,132.5 L927.0,132.5 L935.4,132.5 L943.9,132.5 L952.3,132.5 L960.7,132.5 L969.2,132.5 L977.6,132.5 L986.0,132.5 L994.4,132.5 L1002.9,132.5 L1011.3,132.5 L1019.7,132.5 L1028.2,132.5 L1036.6,132.5 L1045.0,132.5 L1053.5,132.5 L1061.9,132.5 L1070.3,132.5 L1078.8,132.5 L1087.2,132.5 L1095.6,132.5 L1104.0,132.5 L1112.5,132.5 L1120.9,132.5 L1129.3,132.5 L1137.8,132.5 L1146.2,132.5 L1154.6,132.5 L1163.1,132.5 L1171.5,132.5 L1179.9,132.5 L1188.4,132.5 L1196.8,132.5 L1205.2,132.5 L1205.2,294.7 L41.8,294.7 Z" fill="#6a8a46" fill-opacity="0.11" stroke="none"/>
<path d="M41.8,132.5 L50.2,132.5 L58.6,132.5 L67.1,132.5 L75.5,132.5 L83.9,132.5 L92.3,132.5 L100.8,132.5 L109.2,132.5 L117.6,132.5 L126.1,132.5 L134.5,132.5 L142.9,132.5 L151.4,132.5 L159.8,132.5 L168.2,132.5 L176.7,132.5 L185.1,132.5 L193.5,132.5 L201.9,132.5 L210.4,132.5 L218.8,132.5 L227.2,132.5 L235.7,132.5 L244.1,132.5 L252.5,132.5 L261.0,132.5 L269.4,132.5 L277.8,132.5 L286.3,132.5 L294.7,132.5 L303.1,132.5 L311.5,132.5 L320.0,132.5 L328.4,132.5 L336.8,132.5 L345.3,132.5 L353.7,132.5 L362.1,132.5 L370.6,132.5 L379.0,132.5 L387.4,132.5 L395.9,132.5 L404.3,132.5 L412.7,132.5 L421.1,132.5 L429.6,132.5 L438.0,132.5 L446.4,132.5 L454.9,132.5 L463.3,132.5 L471.7,132.5 L480.2,132.5 L488.6,132.5 L497.0,132.5 L505.5,132.5 L513.9,132.5 L522.3,132.5 L530.7,132.5 L539.2,132.5 L547.6,132.5 L556.0,132.5 L564.5,132.5 L572.9,132.5 L581.3,132.5 L589.8,132.5 L598.2,132.5 L606.6,132.5 L615.1,132.5 L623.5,132.5 L631.9,132.5 L640.4,132.5 L648.8,132.5 L657.2,132.5 L665.6,132.5 L674.1,132.5 L682.5,132.5 L690.9,132.5 L699.4,132.5 L707.8,132.5 L716.2,132.5 L724.7,132.5 L733.1,132.5 L741.5,132.5 L750.0,132.5 L758.4,132.5 L766.8,132.5 L775.2,132.5 L783.7,132.5 L792.1,132.5 L800.5,132.5 L809.0,132.5 L817.4,132.5 L825.8,132.5 L834.3,132.5 L842.7,132.5 L851.1,132.5 L859.6,132.5 L868.0,132.5 L876.4,132.5 L884.8,132.5 L893.3,132.5 L901.7,132.5 L910.1,132.5 L918.6,132.5 L927.0,132.5 L935.4,132.5 L943.9,132.5 L952.3,132.5 L960.7,132.5 L969.2,132.5 L977.6,132.5 L986.0,132.5 L994.4,132.5 L1002.9,132.5 L1011.3,132.5 L1019.7,132.5 L1028.2,132.5 L1036.6,132.5 L1045.0,132.5 L1053.5,132.5 L1061.9,132.5 L1070.3,132.5 L1078.8,132.5 L1087.2,132.5 L1095.6,132.5 L1104.0,132.5 L1112.5,132.5 L1120.9,132.5 L1129.3,132.5 L1137.8,132.5 L1146.2,132.5 L1154.6,132.5 L1163.1,132.5 L1171.5,132.5 L1179.9,132.5 L1188.4,132.5 L1196.8,132.5 L1205.2,132.5" fill="none" stroke="#89a981" stroke-width="1.15" stroke-opacity="0.8" stroke-linejoin="round" style="filter:blur(0.3px)"/>
<path d="M39.8,157.9 L41.8,158.0 L50.2,158.3 L58.6,158.7 L67.1,159.1 L75.5,159.5 L83.9,159.9 L92.3,160.3 L100.8,160.6 L109.2,160.8 L117.6,161.0 L126.1,161.2 L134.5,161.5 L142.9,161.7 L151.4,161.9 L159.8,162.2 L168.2,162.3 L176.7,162.4 L185.1,162.5 L193.5,162.7 L201.9,162.8 L210.4,162.9 L218.8,163.0 L227.2,163.1 L235.7,163.2 L244.1,163.3 L252.5,163.4 L261.0,163.4 L269.4,163.4 L277.8,163.4 L286.3,163.4 L294.7,163.4 L303.1,163.4 L311.5,163.4 L320.0,163.4 L328.4,163.4 L336.8,163.4 L345.3,163.4 L353.7,163.4 L362.1,163.4 L370.6,163.4 L379.0,163.4 L387.4,163.4 L395.9,163.4 L404.3,163.4 L412.7,163.4 L421.1,163.4 L429.6,163.4 L438.0,163.4 L446.4,163.4 L454.9,163.4 L463.3,163.4 L471.7,163.4 L480.2,163.4 L488.6,163.4 L497.0,163.4 L505.5,163.4 L513.9,163.4 L522.3,163.4 L530.7,163.4 L539.2,163.4 L547.6,163.4 L556.0,163.4 L564.5,163.4 L572.9,163.4 L581.3,163.4 L589.8,163.4 L598.2,163.3 L606.6,163.3 L615.1,163.3 L623.5,163.3 L631.9,163.3 L640.4,163.3 L648.8,163.3 L657.2,163.3 L665.6,163.3 L674.1,163.3 L682.5,163.3 L690.9,163.3 L699.4,163.3 L707.8,163.3 L716.2,163.3 L724.7,163.3 L733.1,163.2 L741.5,163.2 L750.0,163.7 L758.4,164.8 L766.8,165.9 L775.2,166.6 L783.7,166.6 L792.1,166.6 L800.5,166.6 L809.0,166.3 L817.4,166.0 L825.8,165.7 L834.3,165.4 L842.7,165.0 L851.1,164.7 L859.6,164.4 L868.0,164.2 L876.4,164.1 L884.8,164.0 L893.3,163.9 L901.7,163.8 L910.1,163.7 L918.6,163.6 L927.0,163.5 L935.4,163.4 L943.9,163.3 L952.3,163.3 L960.7,163.4 L969.2,163.4 L977.6,163.4 L986.0,163.4 L994.4,163.4 L1002.9,163.4 L1011.3,163.4 L1019.7,163.4 L1028.2,163.4 L1036.6,163.4 L1045.0,163.4 L1053.5,163.4 L1061.9,163.4 L1070.3,163.4 L1078.8,163.4 L1087.2,162.8 L1095.6,162.3 L1104.0,162.2 L1112.5,162.1 L1120.9,162.0 L1129.3,161.8 L1137.8,161.8 L1146.2,161.8 L1154.6,161.8 L1163.1,161.8 L1171.5,161.8 L1179.9,162.2 L1188.4,162.6 L1196.8,163.0 L1205.2,163.5 L1213.6,163.9 L1222.1,164.4 L1230.5,164.8 L1238.9,165.0 L1247.4,165.3 L1247.4,294.7 L39.8,294.7 Z" fill="#CCA300" fill-opacity="0.1" stroke="none"/>
<path d="M39.8,157.9 L41.8,158.0 L50.2,158.3 L58.6,158.7 L67.1,159.1 L75.5,159.5 L83.9,159.9 L92.3,160.3 L100.8,160.6 L109.2,160.8 L117.6,161.0 L126.1,161.2 L134.5,161.5 L142.9,161.7 L151.4,161.9 L159.8,162.2 L168.2,162.3 L176.7,162.4 L185.1,162.5 L193.5,162.7 L201.9,162.8 L210.4,162.9 L218.8,163.0 L227.2,163.1 L235.7,163.2 L244.1,163.3 L252.5,163.4 L261.0,163.4 L269.4,163.4 L277.8,163.4 L286.3,163.4 L294.7,163.4 L303.1,163.4 L311.5,163.4 L320.0,163.4 L328.4,163.4 L336.8,163.4 L345.3,163.4 L353.7,163.4 L362.1,163.4 L370.6,163.4 L379.0,163.4 L387.4,163.4 L395.9,163.4 L404.3,163.4 L412.7,163.4 L421.1,163.4 L429.6,163.4 L438.0,163.4 L446.4,163.4 L454.9,163.4 L463.3,163.4 L471.7,163.4 L480.2,163.4 L488.6,163.4 L497.0,163.4 L505.5,163.4 L513.9,163.4 L522.3,163.4 L530.7,163.4 L539.2,163.4 L547.6,163.4 L556.0,163.4 L564.5,163.4 L572.9,163.4 L581.3,163.4 L589.8,163.4 L598.2,163.3 L606.6,163.3 L615.1,163.3 L623.5,163.3 L631.9,163.3 L640.4,163.3 L648.8,163.3 L657.2,163.3 L665.6,163.3 L674.1,163.3 L682.5,163.3 L690.9,163.3 L699.4,163.3 L707.8,163.3 L716.2,163.3 L724.7,163.3 L733.1,163.2 L741.5,163.2 L750.0,163.7 L758.4,164.8 L766.8,165.9 L775.2,166.6 L783.7,166.6 L792.1,166.6 L800.5,166.6 L809.0,166.3 L817.4,166.0 L825.8,165.7 L834.3,165.4 L842.7,165.0 L851.1,164.7 L859.6,164.4 L868.0,164.2 L876.4,164.1 L884.8,164.0 L893.3,163.9 L901.7,163.8 L910.1,163.7 L918.6,163.6 L927.0,163.5 L935.4,163.4 L943.9,163.3 L952.3,163.3 L960.7,163.4 L969.2,163.4 L977.6,163.4 L986.0,163.4 L994.4,163.4 L1002.9,163.4 L1011.3,163.4 L1019.7,163.4 L1028.2,163.4 L1036.6,163.4 L1045.0,163.4 L1053.5,163.4 L1061.9,163.4 L1070.3,163.4 L1078.8,163.4 L1087.2,162.8 L1095.6,162.3 L1104.0,162.2 L1112.5,162.1 L1120.9,162.0 L1129.3,161.8 L1137.8,161.8 L1146.2,161.8 L1154.6,161.8 L1163.1,161.8 L1171.5,161.8 L1179.9,162.2 L1188.4,162.6 L1196.8,163.0 L1205.2,163.5 L1213.6,163.9 L1222.1,164.4 L1230.5,164.8 L1238.9,165.0 L1247.4,165.3" fill="none" stroke="#c1a847" stroke-width="1.15" stroke-opacity="0.8" stroke-linejoin="round" style="filter:blur(0.3px)"/>
<path d="M39.8,157.5 L41.8,157.5 L50.2,157.7 L58.6,158.0 L67.1,158.2 L75.5,158.4 L83.9,158.6 L92.3,158.8 L100.8,159.1 L109.2,159.3 L117.6,159.5 L126.1,159.7 L134.5,160.0 L142.9,160.2 L151.4,160.4 L159.8,160.6 L168.2,160.8 L176.7,161.0 L185.1,161.2 L193.5,161.4 L201.9,161.6 L210.4,161.8 L218.8,162.0 L227.2,162.2 L235.7,162.4 L244.1,162.6 L252.5,162.7 L261.0,162.9 L269.4,163.0 L277.8,163.2 L286.3,163.3 L294.7,163.5 L303.1,163.6 L311.5,163.8 L320.0,163.9 L328.4,164.1 L336.8,164.0 L345.3,164.0 L353.7,164.0 L362.1,164.0 L370.6,164.0 L379.0,164.0 L387.4,163.9 L395.9,163.9 L404.3,163.9 L412.7,163.9 L421.1,163.9 L429.6,163.8 L438.0,163.8 L446.4,163.8 L454.9,163.8 L463.3,163.8 L471.7,163.7 L480.2,163.7 L488.6,163.7 L497.0,163.7 L505.5,163.7 L513.9,164.2 L522.3,165.0 L530.7,165.7 L539.2,165.7 L547.6,165.7 L556.0,165.7 L564.5,165.7 L572.9,165.6 L581.3,165.4 L589.8,165.2 L598.2,165.0 L606.6,164.8 L615.1,164.7 L623.5,164.5 L631.9,164.3 L640.4,164.1 L648.8,164.0 L657.2,163.9 L665.6,163.9 L674.1,163.8 L682.5,163.7 L690.9,163.7 L699.4,163.6 L707.8,163.5 L716.2,163.4 L724.7,163.4 L733.1,163.3 L741.5,163.2 L750.0,165.1 L758.4,166.7 L766.8,167.7 L775.2,168.6 L783.7,169.4 L792.1,169.1 L800.5,168.8 L809.0,168.6 L817.4,168.3 L825.8,168.1 L834.3,167.8 L842.7,167.5 L851.1,167.2 L859.6,166.9 L868.0,166.6 L876.4,166.3 L884.8,166.0 L893.3,165.7 L901.7,165.6 L910.1,165.5 L918.6,165.4 L927.0,165.3 L935.4,165.1 L943.9,165.0 L952.3,164.9 L960.7,164.8 L969.2,164.7 L977.6,164.6 L986.0,164.5 L994.4,164.3 L1002.9,164.2 L1011.3,164.1 L1019.7,164.0 L1028.2,163.9 L1036.6,163.8 L1045.0,163.7 L1053.5,163.7 L1061.9,163.7 L1070.3,163.7 L1078.8,163.7 L1087.2,163.7 L1095.6,159.5 L1104.0,156.1 L1112.5,152.7 L1120.9,149.3 L1129.3,147.1 L1137.8,144.9 L1146.2,142.7 L1154.6,140.5 L1163.1,138.3 L1171.5,136.1 L1179.9,153.4 L1188.4,163.2 L1196.8,164.5 L1205.2,164.5 L1213.6,164.6 L1222.1,164.7 L1230.5,164.8 L1238.9,164.8 L1247.4,164.9 L1247.4,294.7 L39.8,294.7 Z" fill="#447EBC" fill-opacity="0.1" stroke="none"/>
<path d="M39.8,157.5 L41.8,157.5 L50.2,157.7 L58.6,158.0 L67.1,158.2 L75.5,158.4 L83.9,158.6 L92.3,158.8 L100.8,159.1 L109.2,159.3 L117.6,159.5 L126.1,159.7 L134.5,160.0 L142.9,160.2 L151.4,160.4 L159.8,160.6 L168.2,160.8 L176.7,161.0 L185.1,161.2 L193.5,161.4 L201.9,161.6 L210.4,161.8 L218.8,162.0 L227.2,162.2 L235.7,162.4 L244.1,162.6 L252.5,162.7 L261.0,162.9 L269.4,163.0 L277.8,163.2 L286.3,163.3 L294.7,163.5 L303.1,163.6 L311.5,163.8 L320.0,163.9 L328.4,164.1 L336.8,164.0 L345.3,164.0 L353.7,164.0 L362.1,164.0 L370.6,164.0 L379.0,164.0 L387.4,163.9 L395.9,163.9 L404.3,163.9 L412.7,163.9 L421.1,163.9 L429.6,163.8 L438.0,163.8 L446.4,163.8 L454.9,163.8 L463.3,163.8 L471.7,163.7 L480.2,163.7 L488.6,163.7 L497.0,163.7 L505.5,163.7 L513.9,164.2 L522.3,165.0 L530.7,165.7 L539.2,165.7 L547.6,165.7 L556.0,165.7 L564.5,165.7 L572.9,165.6 L581.3,165.4 L589.8,165.2 L598.2,165.0 L606.6,164.8 L615.1,164.7 L623.5,164.5 L631.9,164.3 L640.4,164.1 L648.8,164.0 L657.2,163.9 L665.6,163.9 L674.1,163.8 L682.5,163.7 L690.9,163.7 L699.4,163.6 L707.8,163.5 L716.2,163.4 L724.7,163.4 L733.1,163.3 L741.5,163.2 L750.0,165.1 L758.4,166.7 L766.8,167.7 L775.2,168.6 L783.7,169.4 L792.1,169.1 L800.5,168.8 L809.0,168.6 L817.4,168.3 L825.8,168.1 L834.3,167.8 L842.7,167.5 L851.1,167.2 L859.6,166.9 L868.0,166.6 L876.4,166.3 L884.8,166.0 L893.3,165.7 L901.7,165.6 L910.1,165.5 L918.6,165.4 L927.0,165.3 L935.4,165.1 L943.9,165.0 L952.3,164.9 L960.7,164.8 L969.2,164.7 L977.6,164.6 L986.0,164.5 L994.4,164.3 L1002.9,164.2 L1011.3,164.1 L1019.7,164.0 L1028.2,163.9 L1036.6,163.8 L1045.0,163.7 L1053.5,163.7 L1061.9,163.7 L1070.3,163.7 L1078.8,163.7 L1087.2,163.7 L1095.6,159.5 L1104.0,156.1 L1112.5,152.7 L1120.9,149.3 L1129.3,147.1 L1137.8,144.9 L1146.2,142.7 L1154.6,140.5 L1163.1,138.3 L1171.5,136.1 L1179.9,153.4 L1188.4,163.2 L1196.8,164.5 L1205.2,164.5 L1213.6,164.6 L1222.1,164.7 L1230.5,164.8 L1238.9,164.8 L1247.4,164.9" fill="none" stroke="#5f82a7" stroke-width="1.15" stroke-opacity="0.8" stroke-linejoin="round" style="filter:blur(0.3px)"/>
<path d="M39.8,199.7 L41.8,200.2 L50.2,202.6 L58.6,204.0 L67.1,204.7 L75.5,205.2 L83.9,205.3 L92.3,205.3 L100.8,205.4 L109.2,205.5 L117.6,205.5 L126.1,205.6 L134.5,205.6 L142.9,205.7 L151.4,205.8 L159.8,205.8 L168.2,205.9 L176.7,206.0 L185.1,206.0 L193.5,206.5 L201.9,206.9 L210.4,207.3 L218.8,207.8 L227.2,208.1 L235.7,208.1 L244.1,208.1 L252.5,208.1 L261.0,208.1 L269.4,208.1 L277.8,208.1 L286.3,208.1 L294.7,207.5 L303.1,207.0 L311.5,206.4 L320.0,205.8 L328.4,205.2 L336.8,205.2 L345.3,205.2 L353.7,205.2 L362.1,205.2 L370.6,205.2 L379.0,205.2 L387.4,205.2 L395.9,205.0 L404.3,204.7 L412.7,204.4 L421.1,204.2 L429.6,203.9 L438.0,203.7 L446.4,203.4 L454.9,203.2 L463.3,202.9 L471.7,202.6 L480.2,202.4 L488.6,202.2 L497.0,201.9 L505.5,201.7 L513.9,198.5 L522.3,190.0 L530.7,189.2 L539.2,193.1 L547.6,199.1 L556.0,203.8 L564.5,205.4 L572.9,202.2 L581.3,194.8 L589.8,196.2 L598.2,199.9 L606.6,201.5 L615.1,201.5 L623.5,201.5 L631.9,201.5 L640.4,201.5 L648.8,201.5 L657.2,201.5 L665.6,201.5 L674.1,201.5 L682.5,201.5 L690.9,201.5 L699.4,201.5 L707.8,201.5 L716.2,201.5 L724.7,201.5 L733.1,201.5 L741.5,199.8 L750.0,192.8 L758.4,197.8 L766.8,202.7 L775.2,206.9 L783.7,208.9 L792.1,205.3 L800.5,198.2 L809.0,200.4 L817.4,205.2 L825.8,205.1 L834.3,205.0 L842.7,204.9 L851.1,204.9 L859.6,204.8 L868.0,204.7 L876.4,204.6 L884.8,204.5 L893.3,204.4 L901.7,204.3 L910.1,204.3 L918.6,204.2 L927.0,204.1 L935.4,204.1 L943.9,204.0 L952.3,203.9 L960.7,203.8 L969.2,203.8 L977.6,203.7 L986.0,203.6 L994.4,203.6 L1002.9,203.4 L1011.3,203.2 L1019.7,203.1 L1028.2,202.9 L1036.6,202.7 L1045.0,202.6 L1053.5,202.4 L1061.9,202.3 L1070.3,202.1 L1078.8,201.9 L1087.2,184.6 L1095.6,170.6 L1104.0,166.1 L1112.5,163.7 L1120.9,161.2 L1129.3,158.7 L1137.8,156.2 L1146.2,154.4 L1154.6,152.5 L1163.1,150.2 L1171.5,147.8 L1179.9,167.4 L1188.4,184.6 L1196.8,194.5 L1205.2,198.2 L1213.6,201.9 L1222.1,203.4 L1230.5,204.8 L1238.9,206.3 L1247.4,206.3 L1247.4,294.7 L39.8,294.7 Z" fill="#C15C17" fill-opacity="0.1" stroke="none"/>
<path d="M39.8,199.7 L41.8,200.2 L50.2,202.6 L58.6,204.0 L67.1,204.7 L75.5,205.2 L83.9,205.3 L92.3,205.3 L100.8,205.4 L109.2,205.5 L117.6,205.5 L126.1,205.6 L134.5,205.6 L142.9,205.7 L151.4,205.8 L159.8,205.8 L168.2,205.9 L176.7,206.0 L185.1,206.0 L193.5,206.5 L201.9,206.9 L210.4,207.3 L218.8,207.8 L227.2,208.1 L235.7,208.1 L244.1,208.1 L252.5,208.1 L261.0,208.1 L269.4,208.1 L277.8,208.1 L286.3,208.1 L294.7,207.5 L303.1,207.0 L311.5,206.4 L320.0,205.8 L328.4,205.2 L336.8,205.2 L345.3,205.2 L353.7,205.2 L362.1,205.2 L370.6,205.2 L379.0,205.2 L387.4,205.2 L395.9,205.0 L404.3,204.7 L412.7,204.4 L421.1,204.2 L429.6,203.9 L438.0,203.7 L446.4,203.4 L454.9,203.2 L463.3,202.9 L471.7,202.6 L480.2,202.4 L488.6,202.2 L497.0,201.9 L505.5,201.7 L513.9,198.5 L522.3,190.0 L530.7,189.2 L539.2,193.1 L547.6,199.1 L556.0,203.8 L564.5,205.4 L572.9,202.2 L581.3,194.8 L589.8,196.2 L598.2,199.9 L606.6,201.5 L615.1,201.5 L623.5,201.5 L631.9,201.5 L640.4,201.5 L648.8,201.5 L657.2,201.5 L665.6,201.5 L674.1,201.5 L682.5,201.5 L690.9,201.5 L699.4,201.5 L707.8,201.5 L716.2,201.5 L724.7,201.5 L733.1,201.5 L741.5,199.8 L750.0,192.8 L758.4,197.8 L766.8,202.7 L775.2,206.9 L783.7,208.9 L792.1,205.3 L800.5,198.2 L809.0,200.4 L817.4,205.2 L825.8,205.1 L834.3,205.0 L842.7,204.9 L851.1,204.9 L859.6,204.8 L868.0,204.7 L876.4,204.6 L884.8,204.5 L893.3,204.4 L901.7,204.3 L910.1,204.3 L918.6,204.2 L927.0,204.1 L935.4,204.1 L943.9,204.0 L952.3,203.9 L960.7,203.8 L969.2,203.8 L977.6,203.7 L986.0,203.6 L994.4,203.6 L1002.9,203.4 L1011.3,203.2 L1019.7,203.1 L1028.2,202.9 L1036.6,202.7 L1045.0,202.6 L1053.5,202.4 L1061.9,202.3 L1070.3,202.1 L1078.8,201.9 L1087.2,184.6 L1095.6,170.6 L1104.0,166.1 L1112.5,163.7 L1120.9,161.2 L1129.3,158.7 L1137.8,156.2 L1146.2,154.4 L1154.6,152.5 L1163.1,150.2 L1171.5,147.8 L1179.9,167.4 L1188.4,184.6 L1196.8,194.5 L1205.2,198.2 L1213.6,201.9 L1222.1,203.4 L1230.5,204.8 L1238.9,206.3 L1247.4,206.3" fill="none" stroke="#aa6d44" stroke-width="1.15" stroke-opacity="0.8" stroke-linejoin="round" style="filter:blur(0.3px)"/>
</g>
<line x1="334.6" y1="88" x2="334.6" y2="335" stroke="#7d2b25" stroke-width="1"/>
<circle cx="328.4" cy="184.6" r="1.8" fill="none" stroke="#7EB26D" stroke-width="1" stroke-opacity="0.55"/>
<circle cx="328.4" cy="182.5" r="1.8" fill="none" stroke="#EAB839" stroke-width="1" stroke-opacity="0.55"/>
<circle cx="328.4" cy="179.9" r="1.8" fill="none" stroke="#6ED0E0" stroke-width="1" stroke-opacity="0.55"/>
<circle cx="328.4" cy="171.0" r="1.8" fill="none" stroke="#EF843C" stroke-width="1" stroke-opacity="0.55"/>
<circle cx="328.4" cy="173.7" r="1.8" fill="none" stroke="#E24D42" stroke-width="1" stroke-opacity="0.55"/>
<circle cx="328.4" cy="170.3" r="1.8" fill="none" stroke="#1F78C1" stroke-width="1" stroke-opacity="0.55"/>
<circle cx="328.4" cy="167.2" r="1.8" fill="none" stroke="#BA43A9" stroke-width="1" stroke-opacity="0.55"/>
<circle cx="328.4" cy="172.2" r="1.8" fill="none" stroke="#705DA0" stroke-width="1" stroke-opacity="0.55"/>
<circle cx="328.4" cy="132.5" r="1.8" fill="none" stroke="#508642" stroke-width="1" stroke-opacity="0.55"/>
<circle cx="328.4" cy="163.4" r="1.8" fill="none" stroke="#CCA300" stroke-width="1" stroke-opacity="0.55"/>
<circle cx="328.4" cy="164.1" r="1.8" fill="none" stroke="#447EBC" stroke-width="1" stroke-opacity="0.55"/>
<circle cx="328.4" cy="205.2" r="1.8" fill="none" stroke="#C15C17" stroke-width="1" stroke-opacity="0.55"/>
<text class="ax" x="35.7" y="91.3" text-anchor="end">25 °C</text>
<text class="ax" x="35.7" y="132.4" text-anchor="end">20 °C</text>
<text class="ax" x="35.7" y="173.6" text-anchor="end">15 °C</text>
<text class="ax" x="35.7" y="214.7" text-anchor="end">10 °C</text>
<text class="ax" x="35.7" y="255.9" text-anchor="end">5 °C</text>
<text class="ax" x="35.7" y="297.0" text-anchor="end">0 °C</text>
<text class="ax" x="35.7" y="338.1" text-anchor="end">-5 °C</text>
<text class="ax xl" x="133.9" y="350.7" text-anchor="middle">10:00</text>
<text class="ax xl" x="235.1" y="350.7" text-anchor="middle">11:00</text>
<text class="ax xl" x="336.2" y="350.7" text-anchor="middle">12:00</text>
<text class="ax xl" x="437.4" y="350.7" text-anchor="middle">13:00</text>
<text class="ax xl" x="538.6" y="350.7" text-anchor="middle">14:00</text>
<text class="ax xl" x="639.8" y="350.7" text-anchor="middle">15:00</text>
<text class="ax xl" x="740.9" y="350.7" text-anchor="middle">16:00</text>
<text class="ax xl" x="842.1" y="350.7" text-anchor="middle">17:00</text>
<text class="ax xl" x="943.3" y="350.7" text-anchor="middle">18:00</text>
<text class="ax xl" x="1044.4" y="350.7" text-anchor="middle">19:00</text>
<text class="ax xl" x="1145.6" y="350.7" text-anchor="middle">20:00</text>
<text class="ax xl" x="1246.8" y="350.7" text-anchor="middle">21:00</text>
</svg>

<!-- legend -->
<div class="lh" style="left:1016px">min</div>
<div class="lh" style="left:1075px">max</div>
<div class="lh" style="left:1134px">avg</div>
<div class="lh" style="left:1193px">current</div>
<div id="legend">
<div class="lr" style="top:376px"><i style="background:#7EB26D"></i><span class="nm">RGK Temperatur 1</span><span class="v">12.88 °C</span><span class="v">14.31 °C</span><span class="v">13.38 °C</span><span class="v">13.06 °C</span></div>
<div class="lr alt" style="top:398px"><i style="background:#EAB839"></i><span class="nm">RGK Temperatur 2</span><span class="v">13.09 °C</span><span class="v">14.75 °C</span><span class="v">13.68 °C</span><span class="v">13.38 °C</span></div>
<div class="lr" style="top:420px"><i style="background:#6ED0E0"></i><span class="nm">RGK Temperatur 3</span><span class="v">13.29 °C</span><span class="v">14.94 °C</span><span class="v">13.87 °C</span><span class="v">13.55 °C</span></div>
<div class="lr alt" style="top:442px"><i style="background:#EF843C"></i><span class="nm">RGK Temperatur 4</span><span class="v">14.42 °C</span><span class="v">16.00 °C</span><span class="v">14.99 °C</span><span class="v">14.74 °C</span></div>
<div class="lr" style="top:464px"><i style="background:#E24D42"></i><span class="nm">RGK Temperatur 5</span><span class="v">14.13 °C</span><span class="v">15.56 °C</span><span class="v">14.62 °C</span><span class="v">14.41 °C</span></div>
<div class="lr alt last" style="top:486px"><i style="background:#1F78C1"></i><span class="nm">RGK Temperatur 6</span><span class="v">14.46 °C</span><span class="v">16.00 °C</span><span class="v">15.05 °C</span><span class="v">14.81 °C</span></div>
</div>
<div class="sb"></div>

<!-- tooltip -->
<div class="tip">
  <div class="tm">2022-10-01 11:55:00</div>
  <div class="rows">
<div><i style="background:#7EB26D"></i><span>RGK Temperatur 1:</span><b>13.31 °C</b></div>
<div><i style="background:#EAB839"></i><span>RGK Temperatur 2:</span><b>13.56 °C</b></div>
<div><i style="background:#6ED0E0"></i><span>RGK Temperatur 3:</span><b>13.88 °C</b></div>
<div><i style="background:#EF843C"></i><span>RGK Temperatur 4:</span><b>14.96 °C</b></div>
<div><i style="background:#E24D42"></i><span>RGK Temperatur 5:</span><b>14.63 °C</b></div>
<div><i style="background:#1F78C1"></i><span>RGK Temperatur 6:</span><b>15.04 °C</b></div>
<div><i style="background:#BA43A9"></i><span>RGK Temperatur 7:</span><b>15.42 °C</b></div>
<div><i style="background:#705DA0"></i><span>RGK Temperatur 8:</span><b>14.81 °C</b></div>
<div><i style="background:#508642"></i><span>RGK Temperatur 9:</span><b>19.63 °C</b></div>
<div><i style="background:#CCA300"></i><span>RGK Temperatur 10:</span><b>15.88 °C</b></div>
<div><i style="background:#447EBC"></i><span>WP Sole In(BT10):</span><b>15.80 °C</b></div>
<div class="hl"><i style="background:#C15C17"></i><span>WP Sole Aus(BT11):</span><b>10.80 °C</b></div>
  </div>
</div>
</div>
</body>
</html>
